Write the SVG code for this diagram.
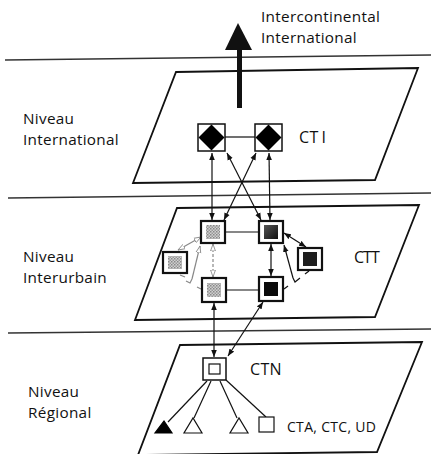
<svg xmlns="http://www.w3.org/2000/svg" width="431" height="454" viewBox="0 0 431 454">
<style>
.t{font-family:"Open Sans","Liberation Sans",sans-serif;font-size:15.3px;letter-spacing:0.3px;fill:#111}
.sep{stroke:#333;stroke-width:1.3;fill:none}
.plane{stroke:#111;stroke-width:1.8;fill:#fff}
.ln{stroke:#111;stroke-width:1.2;fill:none}
.ga{stroke:#888;stroke-width:1.2;fill:none}
.box{fill:#fff;stroke:#111;stroke-width:2.2}
.boxt{fill:#fff;stroke:#111;stroke-width:1.5}
</style>
<defs>
<marker id="ah" viewBox="0 0 10 10" refX="10" refY="5" markerWidth="7" markerHeight="7" orient="auto-start-reverse" markerUnits="userSpaceOnUse">
<path d="M0,1 L10,5 L0,9 z" fill="#111"/>
</marker>
<marker id="gh" viewBox="0 0 10 10" refX="10" refY="5" markerWidth="7" markerHeight="7" orient="auto-start-reverse" markerUnits="userSpaceOnUse">
<path d="M0,1.5 L10,5 L0,8.5 z" fill="#fff" stroke="#888" stroke-width="1.2"/>
</marker>
<pattern id="dots" width="3" height="3" patternUnits="userSpaceOnUse">
<rect width="3" height="3" fill="#d0d0d0"/>
<rect width="1.5" height="1.5" fill="#888"/>
<rect x="1.5" y="1.5" width="1.5" height="1.5" fill="#999"/>
</pattern>
<linearGradient id="dk" x1="0" y1="0" x2="1" y2="1">
<stop offset="0" stop-color="#555"/>
<stop offset="1" stop-color="#111"/>
</linearGradient>
</defs>

<!-- level separators -->
<g id="separators">
<line class="sep" x1="5" y1="60" x2="431" y2="55"/>
<line class="sep" x1="8" y1="198" x2="431" y2="193"/>
<line class="sep" x1="8" y1="333" x2="431" y2="329"/>
</g>

<!-- planes -->
<g id="planes">
<polygon class="plane" points="176,72 418,68 375,180 133,183"/>
<polygon class="plane" points="177,208 419,205 375,317 135,320"/>
<polygon class="plane" points="180,345 422,342 377,452 138,455"/>
</g>

<!-- level labels -->
<g id="labels">
<text class="t" x="23" y="124">Niveau</text>
<text class="t" x="23" y="145">International</text>
<text class="t" x="23" y="262">Niveau</text>
<text class="t" x="23" y="283">Interurbain</text>
<text class="t" x="28" y="397">Niveau</text>
<text class="t" x="28" y="418">Régional</text>
<text class="t" x="261" y="22">Intercontinental</text>
<text class="t" x="261" y="43">International</text>
<text class="t" x="299" y="143" style="font-size:16px">CT<tspan dx="3">I</tspan></text>
<text class="t" x="354" y="263" style="font-size:16px;letter-spacing:-1px">CTT</text>
<text class="t" x="250" y="375" style="font-size:16px">CTN</text>
<text class="t" x="287" y="432" style="font-size:14px">CTA, CTC, UD</text>
</g>

<!-- connectors -->
<g id="connectors">
<rect x="237" y="46" width="5" height="62" fill="#111"/>
<polygon points="238,23 225,50 252,50" fill="#111"/>
<line class="ln" x1="225" y1="137" x2="255" y2="137"/>
<line class="ln" x1="212" y1="153" x2="212" y2="220" marker-start="url(#ah)" marker-end="url(#ah)"/>
<line class="ln" x1="227" y1="153" x2="261" y2="220" marker-start="url(#ah)" marker-end="url(#ah)"/>
<line class="ln" x1="256" y1="153" x2="224" y2="220" marker-start="url(#ah)" marker-end="url(#ah)"/>
<line class="ln" x1="269" y1="153" x2="270" y2="220" marker-start="url(#ah)" marker-end="url(#ah)"/>
<line class="ln" x1="225" y1="232" x2="259" y2="232"/>
<line class="ln" x1="226" y1="290" x2="259" y2="290"/>
<line class="ln" x1="271" y1="244" x2="271" y2="276" marker-start="url(#ah)" marker-end="url(#ah)"/>
<line class="ga" x1="213" y1="244" x2="213" y2="277" stroke-dasharray="3,2" marker-start="url(#gh)" marker-end="url(#gh)"/>
<line class="ga" x1="201" y1="237" x2="178" y2="250" marker-start="url(#gh)" marker-end="url(#gh)"/>
<line class="ga" x1="200" y1="246" x2="192" y2="279" marker-start="url(#gh)"/>
<polyline class="ga" points="192,279 190,283 186,281"/>
<line class="ga" x1="180" y1="275" x2="185" y2="277"/>
<line class="ga" x1="197" y1="287" x2="201" y2="289"/>
<line class="ln" x1="284" y1="233" x2="306" y2="247" marker-start="url(#ah)" marker-end="url(#ah)"/>
<line class="ln" x1="284" y1="245" x2="293" y2="278" marker-start="url(#ah)"/>
<polyline class="ln" points="293,278 295,282 300,278"/>
<line class="ln" x1="305" y1="274" x2="309" y2="271"/>
<line class="ln" x1="284" y1="289" x2="288" y2="286"/>
<line class="ln" x1="214" y1="357" x2="214" y2="303" marker-start="url(#ah)" marker-end="url(#ah)"/>
<line class="ln" x1="228" y1="356" x2="263" y2="302" marker-start="url(#ah)" marker-end="url(#ah)"/>
<line class="ln" x1="207" y1="381" x2="168" y2="422"/>
<line class="ln" x1="211" y1="381" x2="194" y2="418"/>
<line class="ln" x1="220" y1="381" x2="237" y2="418"/>
<line class="ln" x1="226" y1="380" x2="266" y2="417"/>
</g>

<!-- CTI nodes -->
<g id="cti-left">
<rect class="boxt" x="198" y="124" width="27" height="27"/>
<polygon points="211.5,124.5 224.5,137.5 211.5,150.5 198.5,137.5" fill="#000"/>
</g>
<g id="cti-right">
<rect class="boxt" x="255" y="124" width="27" height="27"/>
<polygon points="268.5,124.5 281.5,137.5 268.5,150.5 255.5,137.5" fill="#000"/>
</g>

<!-- CTT nodes -->
<g id="ctt-top-left">
<rect class="box" x="201" y="221" width="24" height="22"/>
<rect x="206" y="225" width="14" height="14" fill="url(#dots)"/>
</g>
<g id="ctt-top-right">
<rect class="box" x="259" y="221" width="24" height="22"/>
<rect x="264" y="225" width="14" height="14" fill="url(#dk)"/>
</g>
<g id="ctt-bottom-left">
<rect class="box" x="202" y="278" width="24" height="24"/>
<rect x="207" y="283" width="14" height="14" fill="url(#dots)"/>
</g>
<g id="ctt-bottom-right">
<rect class="box" x="259" y="277" width="24" height="24"/>
<rect x="264" y="282" width="14" height="14" fill="#0a0a0a"/>
</g>
<g id="ctt-left">
<rect class="box" x="163" y="252" width="24" height="21"/>
<rect x="168" y="256" width="14" height="13" fill="url(#dots)"/>
</g>
<g id="ctt-right">
<rect class="box" x="298" y="248" width="24" height="22"/>
<rect x="303" y="252" width="14" height="14" fill="#1e1e1e"/>
</g>

<!-- CTN node -->
<g id="ctn">
<rect class="boxt" x="203" y="358" width="23" height="22"/>
<rect x="209" y="364" width="11" height="10" fill="#fff" stroke="#111" stroke-width="1.2"/>
</g>

<!-- terminals -->
<g id="term-1"><polygon points="155,433 172,433 164,421" fill="#000" stroke="#000" stroke-width="1.2"/></g>
<g id="term-2"><polygon points="184,433 202,433 193,418" fill="#fff" stroke="#111" stroke-width="1.2"/></g>
<g id="term-3"><polygon points="230,433 248,433 239,418" fill="#fff" stroke="#111" stroke-width="1.2"/></g>
<g id="term-4"><rect x="259" y="417" width="15" height="15" fill="#fff" stroke="#111" stroke-width="1.2"/></g>
</svg>
